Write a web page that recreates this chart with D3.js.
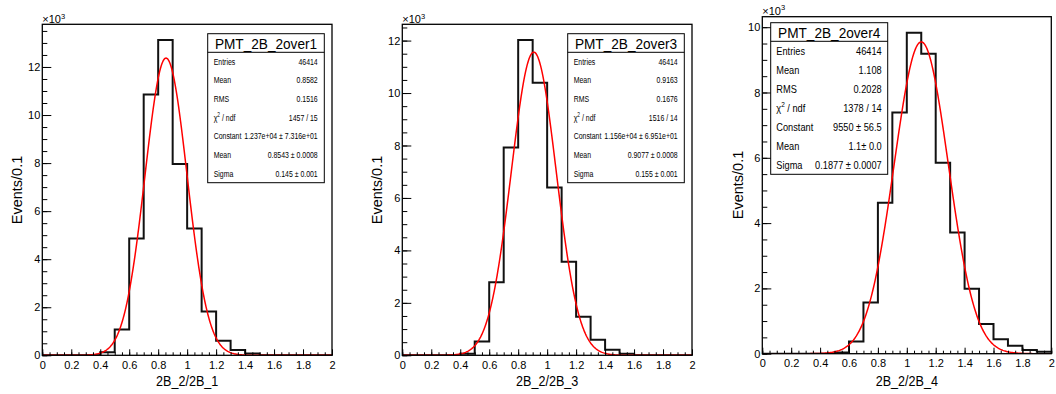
<!DOCTYPE html>
<html>
<head>
<meta charset="utf-8">
<script src="https://cdn.jsdelivr.net/npm/d3@7"></script>
<style>
  html, body { margin: 0; padding: 0; background: #fff; }
  svg { display: block; font-family: "Liberation Sans", Arial, Helvetica, sans-serif; }
</style>
</head>
<body>
<svg id="chart" width="1056" height="394"></svg>
<script>
// Histogram bins: lower edges, width 0.1, range 0..2
const binStarts = [0, 0.1, 0.2, 0.3, 0.4, 0.5, 0.6, 0.7, 0.8, 0.9,
                   1.0, 1.1, 1.2, 1.3, 1.4, 1.5, 1.6, 1.7, 1.8, 1.9];
const binWidth = 0.1;

// Bin contents (events per 0.1)
const counts2over1 = [0, 0, 0, 0, 130, 1070, 4860, 10850, 13120, 7960,
                      5280, 1820, 610, 220, 70, 0, 0, 0, 0, 0];
const counts2over3 = [0, 0, 0, 0, 60, 530, 2790, 7920, 12020, 10390,
                      6400, 3570, 1470, 590, 210, 60, 0, 0, 0, 0];
const counts2over4 = [0, 0, 0, 0, 0, 40, 370, 1570, 4620, 7390,
                      9830, 9190, 5850, 3710, 1990, 910, 440, 240, 110, 60];

// Gaussian fit parameters
const fitConstant = [12370, 11560, 9550];
const fitMean = [0.8543, 0.9077, 1.1];
const fitSigma = [0.145, 0.155, 0.1877];

// Histogram titles and axis titles
const histNames = ["PMT_2B_2over1", "PMT_2B_2over3", "PMT_2B_2over4"];
const xTitles = ["2B_2/2B_1", "2B_2/2B_3", "2B_2/2B_4"];
const yTitle = "Events/0.1";

// Statistics box entries
const statLabels = ["Entries", "Mean", "RMS", "chi2", "Constant", "Mean", "Sigma"];
const statValues2over1 = ["46414", "0.8582", "0.1516", "1457 / 15",
                          "1.237e+04 \u00b1 7.316e+01", "0.8543 \u00b1 0.0008", "0.145 \u00b1 0.001"];
const statValues2over3 = ["46414", "0.9163", "0.1676", "1516 / 14",
                          "1.156e+04 \u00b1 6.951e+01", "0.9077 \u00b1 0.0008", "0.155 \u00b1 0.001"];
const statValues2over4 = ["46414", "1.108", "0.2028", "1378 / 14",
                          "9550 \u00b1 56.5", "1.1\u00b1 0.0", "0.1877 \u00b1 0.0007"];

// Axis tick labels
const xTickValues = [0, 0.2, 0.4, 0.6, 0.8, 1, 1.2, 1.4, 1.6, 1.8, 2];
const yTickValuesK = [[0, 2, 4, 6, 8, 10, 12], [0, 2, 4, 6, 8, 10, 12], [0, 2, 4, 6, 8, 10]];

const svg = d3.select("#chart");

// Panel layout (frame rectangle, stats box, text placement)
const panels = [
  { counts: counts2over1, stats: statValues2over1,
    frame: { x0: 42.3, x1: 332, y0: 24.3, y1: 355.3 },
    box: { x0: 207.7, x1: 324.3, y0: 33.7, sep: 52.3, y1: 182.7 },
    statFont: 9, statScale: 0.77, padL: 6, padR: 6.6,
    yTitleX: 21.5, yTitleY: 190, expX: 42.3, expY: 23 },
  { counts: counts2over3, stats: statValues2over3,
    frame: { x0: 402.3, x1: 692, y0: 24.3, y1: 355.3 },
    box: { x0: 567.7, x1: 684.3, y0: 33.7, sep: 52.3, y1: 182.7 },
    statFont: 9, statScale: 0.77, padL: 6, padR: 6.6,
    yTitleX: 381.5, yTitleY: 190, expX: 402.3, expY: 23 },
  { counts: counts2over4, stats: statValues2over4,
    frame: { x0: 762.3, x1: 1051.3, y0: 16.7, y1: 353.7 },
    box: { x0: 770.7, x1: 887.7, y0: 22.7, sep: 41.3, y1: 174.3 },
    statFont: 11, statScale: 0.84, padL: 5.6, padR: 6,
    yTitleX: 742.5, yTitleY: 185, expX: 762.3, expY: 14.5 }
];

function scaledText(g, x, y, str, opts) {
  const t = g.append("g")
    .attr("transform", `translate(${x},${y}) scale(${opts.sx},1)`)
    .append("text")
    .attr("x", 0).attr("y", 0)
    .attr("font-size", opts.size)
    .attr("text-anchor", opts.anchor || "start")
    .attr("dy", opts.dy || "0.35em")
    .attr("fill", "#000");
  return t.text(str);
}

panels.forEach((p, i) => {
  const f = p.frame;
  const g = svg.append("g");
  const maxCount = d3.max(p.counts);
  const yMax = maxCount * 1.05;

  const x = d3.scaleLinear().domain([0, 2]).range([f.x0, f.x1]);
  const y = d3.scaleLinear().domain([0, yMax]).range([f.y1, f.y0]);
  const yK = d3.scaleLinear().domain([0, yMax / 1000]).range([f.y1, f.y0]);

  const clipId = "clip" + i;
  svg.append("defs").append("clipPath").attr("id", clipId)
    .append("rect").attr("x", f.x0).attr("y", f.y0)
    .attr("width", f.x1 - f.x0).attr("height", f.y1 - f.y0);

  // Histogram outline as a step line
  const steps = [];
  binStarts.forEach((b, k) => {
    steps.push([b, p.counts[k]]);
    steps.push([b + binWidth, p.counts[k]]);
  });
  const line = d3.line().x(d => x(d[0])).y(d => y(d[1]));
  g.append("path")
    .attr("clip-path", `url(#${clipId})`)
    .attr("d", line(steps))
    .attr("fill", "none")
    .attr("stroke", "#111")
    .attr("stroke-width", 2);

  // Gaussian fit curve
  const A = fitConstant[i], mu = fitMean[i], s = fitSigma[i];
  const xs = d3.range(0, 2.0001, 0.005);
  const curve = xs.map(v => [v, A * Math.exp(-0.5 * ((v - mu) / s) ** 2)]);
  g.append("path")
    .attr("clip-path", `url(#${clipId})`)
    .attr("d", d3.line().x(d => x(d[0])).y(d => y(d[1]))(curve))
    .attr("fill", "none")
    .attr("stroke", "#ff0000")
    .attr("stroke-width", 1.5);

  // Axes with ticks pointing inward
  const minorX = d3.range(0, 2.0001, 0.05).map(v => +v.toFixed(2));
  g.append("g").attr("transform", `translate(0,${f.y1})`)
    .call(d3.axisBottom(x).tickValues(minorX).tickSize(-3).tickFormat(""))
    .call(a => a.select(".domain").remove());
  g.append("g").attr("transform", `translate(0,${f.y1})`)
    .call(d3.axisBottom(x).tickValues(xTickValues).tickSize(-6).tickPadding(6)
      .tickFormat(d3.format("~g")))
    .call(a => a.select(".domain").remove())
    .call(a => a.selectAll("text").attr("font-size", 11).attr("fill", "#000")
      .attr("font-family", "Liberation Sans, Arial, sans-serif"));

  const minorY = d3.range(0, yMax / 1000, 0.5);
  g.append("g").attr("transform", `translate(${f.x0},0)`)
    .call(d3.axisLeft(yK).tickValues(minorY).tickSize(-5).tickFormat(""))
    .call(a => a.select(".domain").remove());
  g.append("g").attr("transform", `translate(${f.x0},0)`)
    .call(d3.axisLeft(yK).tickValues(yTickValuesK[i]).tickSize(-9).tickPadding(2)
      .tickFormat(d3.format("d")))
    .call(a => a.select(".domain").remove())
    .call(a => a.selectAll("text").attr("font-size", 11).attr("fill", "#000")
      .attr("font-family", "Liberation Sans, Arial, sans-serif"));
  g.selectAll(".tick line").attr("stroke", "#000");

  // Frame
  g.append("rect")
    .attr("x", f.x0).attr("y", f.y0)
    .attr("width", f.x1 - f.x0).attr("height", f.y1 - f.y0)
    .attr("fill", "none").attr("stroke", "#000").attr("stroke-width", 1.3);

  // Exponent label
  const exp = g.append("text")
    .attr("x", p.expX).attr("y", p.expY)
    .attr("font-size", 11).attr("fill", "#000");
  exp.append("tspan").text("\u00d710");
  exp.append("tspan").attr("font-size", 7.5).attr("dy", -4.5).text("3");

  // Axis titles
  scaledText(g, (f.x0 + f.x1) / 2, 385.7, xTitles[i], { sx: 0.9, size: 14, anchor: "middle", dy: "0" });
  g.append("text")
    .attr("transform", `translate(${p.yTitleX},${p.yTitleY}) rotate(-90)`)
    .attr("text-anchor", "middle")
    .attr("font-size", 14.5).attr("fill", "#000")
    .text(yTitle);

  // Statistics box
  const b = p.box;
  g.append("rect")
    .attr("x", b.x0).attr("y", b.y0)
    .attr("width", b.x1 - b.x0).attr("height", b.y1 - b.y0)
    .attr("fill", "#fff").attr("stroke", "#000").attr("stroke-width", 1);
  g.append("line")
    .attr("x1", b.x0).attr("x2", b.x1).attr("y1", b.sep).attr("y2", b.sep)
    .attr("stroke", "#000").attr("stroke-width", 1);
  scaledText(g, (b.x0 + b.x1) / 2, (b.y0 + b.sep) / 2 + 0.5, histNames[i],
    { sx: 0.88, size: 15.5, anchor: "middle" });

  const rowH = (b.y1 - b.sep) / statLabels.length;
  statLabels.forEach((lab, r) => {
    const cy = b.sep + (r + 0.5) * rowH;
    const opts = { sx: p.statScale, size: p.statFont };
    if (lab === "chi2") {
      const t = scaledText(g, b.x0 + p.padL, cy, "", opts);
      t.append("tspan").text("\u03c7");
      t.append("tspan").attr("font-size", p.statFont * 0.7).attr("dy", -p.statFont * 0.4).text("2");
      t.append("tspan").attr("dy", p.statFont * 0.4).text(" / ndf");
    } else {
      scaledText(g, b.x0 + p.padL, cy, lab, opts);
    }
    scaledText(g, b.x1 - p.padR, cy, p.stats[r], { sx: p.statScale, size: p.statFont, anchor: "end" });
  });
});
</script>
</body>
</html>
